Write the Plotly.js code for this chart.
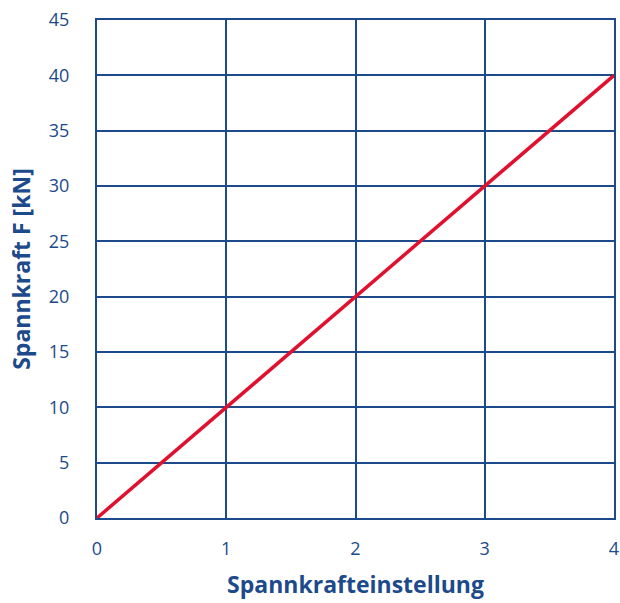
<!DOCTYPE html>
<html><head><meta charset="utf-8">
<script src="https://cdn.plot.ly/plotly-3.0.1.min.js"></script>
<style>body{margin:0;padding:0;background:#fff}#c{width:620px;height:603px}</style>
</head><body><div id="c"></div>
<script>
const xValues = [0, 1, 2, 3, 4];
const yValues = [0, 10, 20, 30, 40];
const xTicks = [0, 1, 2, 3, 4];
const yTicks = [0, 5, 10, 15, 20, 25, 30, 35, 40, 45];
const blue = '#1c4a8a';
const trace = {x: xValues, y: yValues, mode: 'lines', line: {color: '#e0102f', width: 3.5}, hoverinfo: 'none'};
const layout = {
  width: 620, height: 603,
  margin: {l: 97, r: 6, t: 20, b: 85},
  paper_bgcolor: '#fff', plot_bgcolor: '#fff',
  showlegend: false,
  font: {family: 'Open Sans, sans-serif', color: blue, size: 18},
  xaxis: {range: [0, 4], tickvals: xTicks, ticks: '', showgrid: true, gridcolor: blue, gridwidth: 2,
    zeroline: false, showline: true, linecolor: blue, linewidth: 2, mirror: true, ticklabelstandoff: 13,
    title: {text: 'Spannkrafteinstellung', font: {size: 23, weight: 'bold', color: blue}, standoff: 18}},
  yaxis: {range: [0, 45], tickvals: yTicks, ticks: '', showgrid: true, gridcolor: blue, gridwidth: 2,
    zeroline: false, showline: true, linecolor: blue, linewidth: 2, mirror: true, ticklabelstandoff: 22,
    title: {text: 'Spannkraft F [kN]', font: {size: 23, weight: 'bold', color: blue}, standoff: 12}}
};
Plotly.newPlot('c', [trace], layout, {staticPlot: true});
</script></body></html>
